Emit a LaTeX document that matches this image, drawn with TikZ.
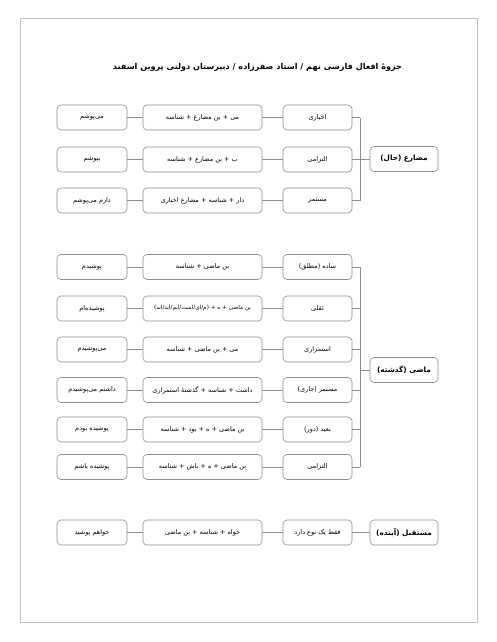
\documentclass[tikz,border=0pt]{standalone}
\usepackage{fontspec}
\TeXXeTstate=1
\newfontfamily\arabicfont[Script=Arabic]{DejaVu Sans}
\newcommand\fatext[1]{{\arabicfont\beginR #1\endR}}
\definecolor{boxgray}{gray}{0.55}
\definecolor{framegray}{gray}{0.75}
\begin{document}
\begin{tikzpicture}[x=1pt,y=-1pt,
  cell/.style={draw=boxgray,line width=0.6pt,rounded corners=4pt,minimum height=25pt,inner sep=1pt,font=\fontsize{6.5}{8}\selectfont},
  wa/.style={cell,minimum width=70pt},
  wb/.style={cell,minimum width=119pt},
  wc/.style={cell,minimum width=69pt},
  wr/.style={cell,minimum width=68pt,font=\fontsize{7.3}{9}\selectfont\bfseries},
  link/.style={draw=boxgray,line width=0.6pt}]
\useasboundingbox (0,0) rectangle (496,642);
\draw[framegray,line width=1pt] (20,19) rectangle (477,622);
\node[font=\fontsize{8.1}{10}\selectfont\bfseries] (title) at (257.5,67) {\fatext{جزوهٔ افعال فارسی نهم / استاد صفرزاده / دبیرستان دولتی پروین اسفند}};
\coordinate (bx) at (360,0);
% present
\node[wr] (pr) at (404,159) {\fatext{مضارع (حال)}};
\node[wc] (p1c) at (317.5,117.5) {\fatext{اخباری}};
\node[wb] (p1b) at (202.5,117.5) {\fatext{می + بن مضارع + شناسه}};
\node[wa] (p1a) at (92,117.5) {\fatext{می‌پوشم}};
\node[wc] (p2c) at (317.5,159.5) {\fatext{التزامی}};
\node[wb] (p2b) at (202.5,159.5) {\fatext{ب + بن مضارع + شناسه}};
\node[wa] (p2a) at (92,159.5) {\fatext{بپوشم}};
\node[wc] (p3c) at (317.5,200.5) {\fatext{مستمر}};
\node[wb] (p3b) at (202.5,200.5) {\fatext{دار + شناسه + مضارع اخباری}};
\node[wa] (p3a) at (92,200.5) {\fatext{دارم می‌پوشم}};
\foreach \r in {1,2,3}{
  \draw[link] (p\r a.east) -- (p\r b.west);
  \draw[link] (p\r b.east) -- (p\r c.west);
  \draw[link] (p\r c.east) -- (p\r c.east -| bx);
}
\draw[link] (p1c.east -| bx) -- (p3c.east -| bx);
\draw[link] (pr.west) -- (pr.west -| bx);
% past
\node[wr] (mr) at (404,370) {\fatext{ماضی (گذشته)}};
\node[wc] (m1c) at (317.5,267) {\fatext{ساده (مطلق)}};
\node[wb] (m1b) at (202.5,267) {\fatext{بن ماضی + شناسه}};
\node[wa] (m1a) at (92,267) {\fatext{پوشیدم}};
\node[wc] (m2c) at (317.5,308.5) {\fatext{نَقلی}};
\node[wb,font=\fontsize{5.7}{7}\selectfont] (m2b) at (202.5,308.5) {\fatext{بن ماضی + ه + (م/ای/است/ایم/اید/اند)}};
\node[wa] (m2a) at (92,308.5) {\fatext{پوشیده‌ام}};
\node[wc] (m3c) at (317.5,349.5) {\fatext{استمراری}};
\node[wb] (m3b) at (202.5,349.5) {\fatext{می + بن ماضی + شناسه}};
\node[wa] (m3a) at (92,349.5) {\fatext{می‌پوشیدم}};
\node[wc] (m4c) at (317.5,390) {\fatext{مستمر (جاری)}};
\node[wb] (m4b) at (202.5,390) {\fatext{داشت + شناسه + گذشتهٔ استمراری}};
\node[wa] (m4a) at (92,390) {\fatext{داشتم می‌پوشیدم}};
\node[wc] (m5c) at (317.5,429.5) {\fatext{بعید (دور)}};
\node[wb] (m5b) at (202.5,429.5) {\fatext{بن ماضی + ه + بود + شناسه}};
\node[wa] (m5a) at (92,429.5) {\fatext{پوشیده بودم}};
\node[wc] (m6c) at (317.5,467) {\fatext{التزامی}};
\node[wb] (m6b) at (202.5,467) {\fatext{بن ماضی + ه + باش + شناسه}};
\node[wa] (m6a) at (92,467) {\fatext{پوشیده باشم}};
\foreach \r in {1,...,6}{
  \draw[link] (m\r a.east) -- (m\r b.west);
  \draw[link] (m\r b.east) -- (m\r c.west);
  \draw[link] (m\r c.east) -- (m\r c.east -| bx);
}
\draw[link] (m1c.east -| bx) -- (m6c.east -| bx);
\draw[link] (mr.west) -- (mr.west -| bx);
% future
\node[wr] (fr) at (404,532.5) {\fatext{مستقبل (آینده)}};
\node[wc] (f1c) at (317.5,532.5) {\fatext{فقط یک نوع دارد}};
\node[wb] (f1b) at (202.5,532.5) {\fatext{خواه + شناسه + بن ماضی}};
\node[wa] (f1a) at (92,532.5) {\fatext{خواهم پوشید}};
\draw[link] (f1a.east) -- (f1b.west);
\draw[link] (f1b.east) -- (f1c.west);
\draw[link] (f1c.east) -- (fr.west);
\end{tikzpicture}
\end{document}
